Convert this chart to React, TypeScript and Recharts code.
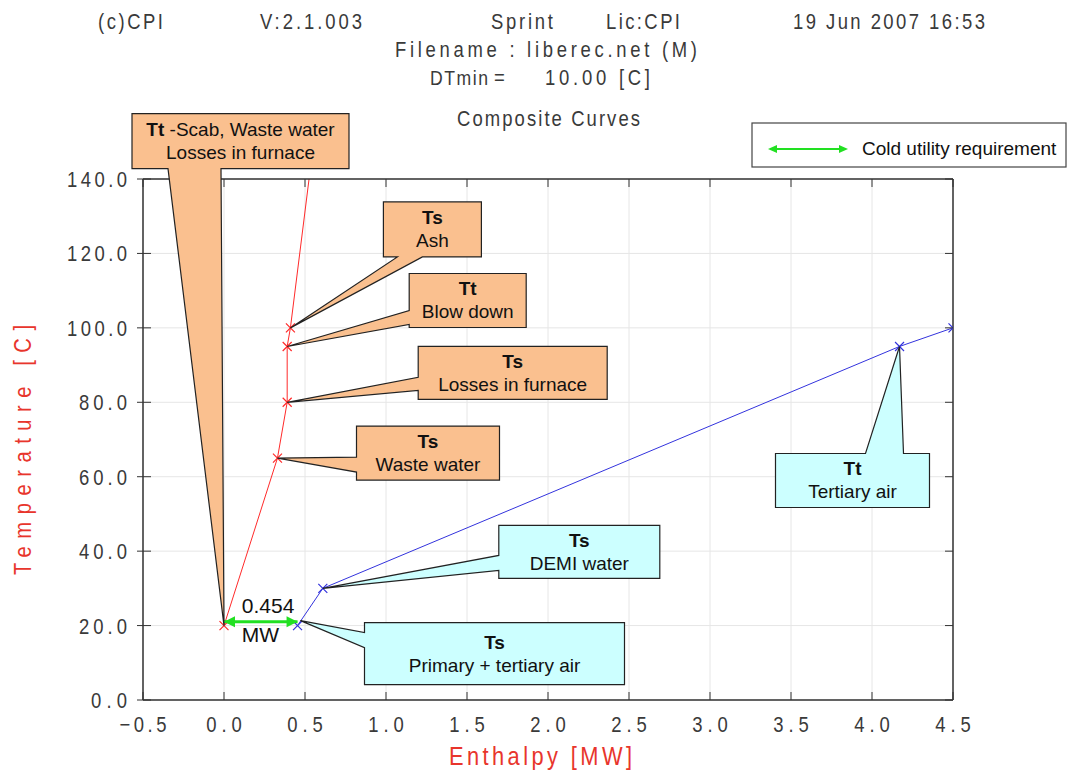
import React from 'react';
import {
  ComposedChart,
  Line,
  XAxis,
  YAxis,
  CartesianGrid,
  ReferenceDot,
  Customized,
} from 'recharts';

// ---------- data ----------
const xTicks = [-0.5, 0, 0.5, 1, 1.5, 2, 2.5, 3, 3.5, 4, 4.5];
const yTicks = [0, 20, 40, 60, 80, 100, 120, 140];

const hotEnthalpy = [0, 0.33, 0.39, 0.39, 0.41, 0.525];
const hotTemp = [20, 65, 80, 95, 100, 140];

const coldEnthalpy = [0.454, 0.61, 4.17, 4.5];
const coldTemp = [20, 30, 95, 100];

const utilityEnthalpy = [0, 0.454];
const utilityTemp = [21, 21];
const coldUtilityMW = 0.454;

const calloutTitles = ['Tt', 'Ts', 'Tt', 'Ts', 'Ts', 'Ts', 'Ts', 'Tt'];
const calloutTexts = [
  ['-Scab, Waste water', 'Losses in furnace'],
  ['Ash'],
  ['Blow down'],
  ['Losses in furnace'],
  ['Waste water'],
  ['DEMI water'],
  ['Primary + tertiary air'],
  ['Tertiary air'],
];
const calloutH = [0, 0.41, 0.39, 0.39, 0.33, 0.61, 0.454, 4.17];
const calloutT = [20, 100, 95, 80, 65, 30, 20, 95];
const calloutKind = ['hot', 'hot', 'hot', 'hot', 'hot', 'cold', 'cold', 'cold'];

const headerTexts = ['(c)CPI', 'V:2.1.003', 'Sprint', 'Lic:CPI', '19 Jun 2007 16:53'];
const fileText = 'Filename : liberec.net (M)';
const dtminLabel = 'DTmin';
const dtminEq = '=';
const dtminValue = '10.00 [C]';
const chartTitle = 'Composite Curves';
const legendLabel = 'Cold utility requirement';
const xLabel = 'Enthalpy [MW]';
const yLabel = 'Temperature [C]';

// ---------- derived tables ----------
const hotData = hotEnthalpy.map((h, i) => ({ h, t: hotTemp[i] }));
const coldData = coldEnthalpy.map((h, i) => ({ h, t: coldTemp[i] }));
const utilityData = utilityEnthalpy.map((h, i) => ({ h, t: utilityTemp[i] }));

// ---------- styles / layout ----------
const W = 1067;
const H = 771;
const HOT = '#ff2a2a';
const COLD = '#3333dd';
const GREEN = '#22e022';
const ORANGE = '#fac08f';
const CYAN = '#ccffff';
const AXIS = '#333333';
const TXT = '#3a3a3a';
const SANS = "'Liberation Sans', Arial, sans-serif";
const ARIAL = "'Liberation Sans', Arial, sans-serif";
const SQ = 0.84; // horizontal squeeze for the plotter-style font

// narrow, letter-spaced text (plotter font look)
const NText = ({ x, y, w, anchor = 'start', size = 22, fill = TXT, children }: any) => {
  const off = anchor === 'start' ? 0 : anchor === 'end' ? -w : -w / 2;
  return (
    <text
      transform={`translate(${x + off},${y}) scale(${SQ},1)`}
      x={0}
      y={0}
      fontFamily={SANS}
      fontSize={size}
      fill={fill}
      textLength={w / SQ}
      lengthAdjust="spacing"
    >
      {children}
    </text>
  );
};

// callout geometry relative to the anchor point: box [x1,y1,x2,y2], side, base
type Geo = { box: [number, number, number, number]; side: 'left' | 'top' | 'bottom'; base: [number, number]; tip?: [number, number] };
const calloutGeo: Geo[] = [
  { box: [-92, -512, 125, -457], side: 'bottom', base: [-56, -3] },
  { box: [93, -126, 191, -71], side: 'bottom', base: [107, 132] },
  { box: [122, -73, 239, -19], side: 'left', base: [-36, -22] },
  { box: [131, -56, 320, -3], side: 'left', base: [-25, -12] },
  { box: [79, -32, 222, 22], side: 'left', base: [-1, 14] },
  { box: [176, -63, 337, -10], side: 'left', base: [-33, -18] },
  { box: [67, -3, 327, 59], side: 'left', base: [7, 22], tip: [3, -5] },
  { box: [-124, 107, 30, 161], side: 'top', base: [-34, 4] },
];

function calloutPath(cx: number, cy: number, g: Geo) {
  const [x1, y1, x2, y2] = g.box;
  const tx = cx + (g.tip ? g.tip[0] : 0);
  const ty = cy + (g.tip ? g.tip[1] : 0);
  const X1 = cx + x1, X2 = cx + x2, Y1 = cy + y1, Y2 = cy + y2;
  const pts: [number, number][] = [];
  pts.push([X1, Y1]);
  if (g.side === 'top') {
    pts.push([cx + g.base[0], Y1], [tx, ty], [cx + g.base[1], Y1]);
  }
  pts.push([X2, Y1], [X2, Y2]);
  if (g.side === 'bottom') {
    pts.push([cx + g.base[1], Y2], [tx, ty], [cx + g.base[0], Y2]);
  }
  pts.push([X1, Y2]);
  if (g.side === 'left') {
    pts.push([X1, cy + g.base[1]], [tx, ty], [X1, cy + g.base[0]]);
  }
  return 'M' + pts.map((p) => p[0].toFixed(1) + ',' + p[1].toFixed(1)).join('L') + 'Z';
}

const makeCalloutShape = (i: number) => (props: any) => {
  const { cx, cy } = props;
  if (cx == null || cy == null) return <g />;
  const g = calloutGeo[i];
  const [x1, y1, x2, y2] = g.box;
  const midX = cx + (x1 + x2) / 2;
  const midY = cy + (y1 + y2) / 2;
  const texts = calloutTexts[i];
  const fill = calloutKind[i] === 'hot' ? ORANGE : CYAN;
  return (
    <g>
      <path d={calloutPath(cx, cy, g)} fill={fill} stroke="#222" strokeWidth={1.2} strokeLinejoin="miter" />
      {texts.length === 2 ? (
        <g fontFamily={ARIAL} fontSize={19} fill="#111" textAnchor="middle">
          <text x={midX} y={midY - 5}>
            <tspan fontWeight="bold">{calloutTitles[i]}</tspan>
            <tspan> {texts[0]}</tspan>
          </text>
          <text x={midX} y={midY + 18}>{texts[1]}</text>
        </g>
      ) : (
        <g fontFamily={ARIAL} fontSize={19} fill="#111" textAnchor="middle">
          <text x={midX} y={midY - 5} fontWeight="bold">{calloutTitles[i]}</text>
          <text x={midX} y={midY + 18}>{texts[0]}</text>
        </g>
      )}
    </g>
  );
};

const crossDot = (color: string) => (props: any) => {
  const { cx, cy, payload, index } = props;
  if (cx == null || cy == null || payload.t >= 140) return <g key={'d' + index} />;
  const s = 4.5;
  return (
    <path
      key={'d' + index}
      d={`M${cx - s},${cy - s}L${cx + s},${cy + s}M${cx - s},${cy + s}L${cx + s},${cy - s}`}
      stroke={color}
      strokeWidth={1.2}
      fill="none"
    />
  );
};

const arrowDot = (props: any) => {
  const { cx, cy, index } = props;
  if (cx == null || cy == null) return <g key={'a' + index} />;
  const dir = index === 0 ? 1 : -1;
  return (
    <path
      key={'a' + index}
      d={`M${cx},${cy}L${cx + dir * 11},${cy - 5.5}L${cx + dir * 11},${cy + 5.5}Z`}
      fill={GREEN}
      stroke="none"
    />
  );
};

const fmt = (v: number) => (v < 0 ? '\u2212' + Math.abs(v).toFixed(1) : v.toFixed(1));

const LeftTick = (props: any) => {
  const { x, y, payload } = props;
  const s = fmt(payload.value);
  return (
    <g>
      <line x1={x - 6} x2={x + 8} y1={y} y2={y} stroke={AXIS} strokeWidth={1} />
      <NText x={x - 16} y={y + 8} w={s.length * 12} anchor="end">{s}</NText>
    </g>
  );
};

const BottomTick = (props: any) => {
  const { x, y, payload } = props;
  const s = fmt(payload.value);
  return (
    <g>
      <line x1={x} x2={x} y1={y - 8} y2={y} stroke={AXIS} strokeWidth={1} />
      <NText x={x} y={y + 32} w={s.length * 11.8} anchor="middle">{s}</NText>
    </g>
  );
};

const RightTick = (props: any) => {
  const { x, y } = props;
  return <line x1={x - 8} x2={x} y1={y} y2={y} stroke={AXIS} strokeWidth={1} />;
};

const TopTick = (props: any) => {
  const { x, y } = props;
  return <line x1={x} x2={x} y1={y} y2={y + 8} stroke={AXIS} strokeWidth={1} />;
};

const Decor = () => (
  <g>
    <NText x={98} y={29} w={65}>{headerTexts[0]}</NText>
    <NText x={260} y={29} w={102}>{headerTexts[1]}</NText>
    <NText x={491} y={29} w={62}>{headerTexts[2]}</NText>
    <NText x={606} y={29} w={74}>{headerTexts[3]}</NText>
    <NText x={793} y={29} w={192}>{headerTexts[4]}</NText>
    <NText x={395} y={57} w={302}>{fileText}</NText>
    <NText x={430} y={85} w={58} size={21}>{dtminLabel}</NText>
    <NText x={494} y={85} w={11}>{dtminEq}</NText>
    <NText x={545} y={85} w={105}>{dtminValue}</NText>
    <NText x={457} y={126} w={183}>{chartTitle}</NText>
    <NText x={449} y={765} w={183} size={26} fill="#e8352c">{xLabel}</NText>
    <g transform="translate(31,575) rotate(-90)">
      <NText x={0} y={0} w={250} size={24} fill="#e8352c">{yLabel}</NText>
    </g>
    <g>
      <rect x={752} y={123} width={314} height={44} fill="#fff" stroke="#444" strokeWidth={1.2} />
      <line x1={774} x2={842} y1={149} y2={149} stroke={GREEN} strokeWidth={2} />
      <path d="M768,149L777,145L777,153Z" fill={GREEN} />
      <path d="M848,149L839,145L839,153Z" fill={GREEN} />
      <text x={862} y={155} fontFamily={ARIAL} fontSize={19} fill="#111">{legendLabel}</text>
    </g>
  </g>
);

const UtilityLabel = (props: any) => {
  const { cx, cy } = props;
  if (cx == null) return <g />;
  return (
    <g fontFamily={ARIAL} fontSize={21} fill="#111">
      <text x={cx - 19} y={cy - 9}>{coldUtilityMW.toFixed(3)}</text>
      <text x={cx - 19} y={cy + 20}>MW</text>
    </g>
  );
};

export default function App() {
  return (
    <div style={{ position: 'absolute', left: 0, top: 0, width: W, height: H, background: '#fff' }}>
      <ComposedChart width={W} height={H} margin={{ top: 169, right: 0, bottom: 0, left: 0 }}>
        <CartesianGrid stroke="#e6e6e6" strokeWidth={1} />
        <XAxis
          xAxisId={0}
          dataKey="h"
          type="number"
          domain={[-0.5, 4.5]}
          ticks={xTicks}
          allowDataOverflow
          height={71}
          tickSize={0}
          tickMargin={0}
          tickLine={false}
          axisLine={{ stroke: AXIS, strokeWidth: 1.5 }}
          tick={<BottomTick />}
          interval={0}
        />
        <XAxis
          xAxisId="top"
          orientation="top"
          dataKey="h"
          type="number"
          domain={[-0.5, 4.5]}
          ticks={xTicks}
          allowDataOverflow
          height={10}
          tickSize={0}
          tickMargin={0}
          tickLine={false}
          axisLine={{ stroke: AXIS, strokeWidth: 1.5 }}
          tick={<TopTick />}
          interval={0}
        />
        <YAxis
          yAxisId={0}
          type="number"
          domain={[0, 140]}
          ticks={yTicks}
          allowDataOverflow
          width={143}
          tickSize={0}
          tickMargin={0}
          tickLine={false}
          axisLine={{ stroke: AXIS, strokeWidth: 1.5 }}
          tick={<LeftTick />}
          interval={0}
        />
        <YAxis
          yAxisId="right"
          orientation="right"
          type="number"
          domain={[0, 140]}
          ticks={yTicks}
          allowDataOverflow
          width={114}
          tickSize={0}
          tickMargin={0}
          tickLine={false}
          axisLine={{ stroke: AXIS, strokeWidth: 1.5 }}
          tick={<RightTick />}
          interval={0}
        />
        <Line
          data={hotData}
          dataKey="t"
          xAxisId={0}
          yAxisId={0}
          type="linear"
          stroke={HOT}
          strokeWidth={1}
          dot={crossDot(HOT)}
          activeDot={false}
          isAnimationActive={false}
        />
        <Line
          data={coldData}
          dataKey="t"
          xAxisId={0}
          yAxisId={0}
          type="linear"
          stroke={COLD}
          strokeWidth={1}
          dot={crossDot(COLD)}
          activeDot={false}
          isAnimationActive={false}
        />
        {calloutH.map((h, i) => (
          <ReferenceDot
            key={'c' + i}
            x={h}
            y={calloutT[i]}
            xAxisId={0}
            yAxisId={0}
            r={1}
            shape={makeCalloutShape(i)}
          />
        ))}
        <Line
          data={utilityData}
          dataKey="t"
          xAxisId={0}
          yAxisId={0}
          type="linear"
          stroke={GREEN}
          strokeWidth={3}
          dot={arrowDot}
          activeDot={false}
          isAnimationActive={false}
        />
        <ReferenceDot
          x={(utilityEnthalpy[0] + utilityEnthalpy[1]) / 2}
          y={utilityTemp[0]}
          xAxisId={0}
          yAxisId={0}
          r={1}
          shape={UtilityLabel}
        />
        <Customized component={Decor} />
      </ComposedChart>
    </div>
  );
}
